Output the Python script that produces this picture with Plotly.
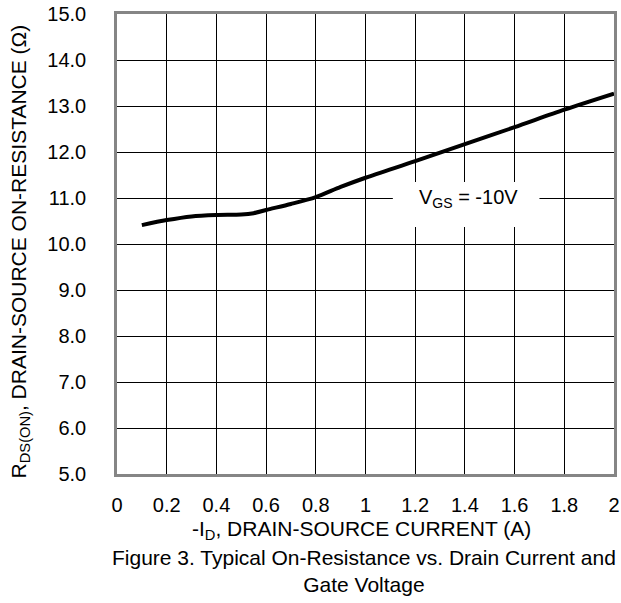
import plotly.graph_objects as go

# Drain current (A) and on-resistance (ohm) at VGS = -10 V
drain_current = [0.1, 0.2, 0.3, 0.4, 0.5, 0.55, 0.6, 0.7, 0.8, 0.9, 1.0, 1.2, 1.4, 1.6, 1.8, 2.0]
on_resistance = [10.41, 10.52, 10.60, 10.63, 10.64, 10.67, 10.74, 10.87, 11.02, 11.24, 11.44,
                 11.80, 12.17, 12.54, 12.92, 13.27]

x_ticks = [0, 0.2, 0.4, 0.6, 0.8, 1, 1.2, 1.4, 1.6, 1.8, 2]
x_tick_labels = ["0", "0.2", "0.4", "0.6", "0.8", "1", "1.2", "1.4", "1.6", "1.8", "2"]
y_ticks = [5, 6, 7, 8, 9, 10, 11, 12, 13, 14, 15]
y_tick_labels = ["5.0", "6.0", "7.0", "8.0", "9.0", "10.0", "11.0", "12.0", "13.0", "14.0", "15.0"]

FONT = "Liberation Sans, Arial, sans-serif"

fig = go.Figure()
fig.add_trace(go.Scatter(
    x=drain_current, y=on_resistance, mode="lines",
    line=dict(color="black", width=4, shape="spline", smoothing=0.8),
    hoverinfo="skip", showlegend=False,
))

axis_common = dict(
    showgrid=True, gridcolor="black", gridwidth=1,
    showline=True, linecolor="#858585", linewidth=2.5, mirror=True,
    ticks="", zeroline=False, fixedrange=True,
    tickfont=dict(family=FONT, size=20, color="black"),
)

fig.update_xaxes(range=[0, 2], tickvals=x_ticks, ticktext=x_tick_labels,
                 ticklabelstandoff=11, **axis_common)
fig.update_yaxes(range=[5, 15], tickvals=y_ticks, ticktext=y_tick_labels,
                 ticklabelstandoff=24, **axis_common)

# white patch behind the VGS label, covering the grid
fig.add_shape(type="rect", xref="x", yref="y", x0=1.11, x1=1.70, y0=10.37, y1=11.35,
              fillcolor="white", line=dict(width=0), layer="above")

fig.add_annotation(x=1.415, y=10.98, xref="x", yref="y", showarrow=False,
                   text="V<sub>GS</sub> = -10V",
                   font=dict(family=FONT, size=20, color="black"))

fig.add_annotation(x=-0.195, y=0.484, xref="paper", yref="paper", showarrow=False,
                   textangle=-90, xanchor="center", yanchor="middle",
                   text="R<sub>DS(ON)</sub>, DRAIN-SOURCE ON-RESISTANCE (Ω)",
                   font=dict(family=FONT, size=21, color="black"))

fig.add_annotation(x=0.492, y=-0.122, xref="paper", yref="paper", showarrow=False,
                   xanchor="center", yanchor="middle",
                   text="-I<sub>D</sub>, DRAIN-SOURCE CURRENT (A)",
                   font=dict(family=FONT, size=21, color="black"))

fig.add_annotation(x=0.497, y=-0.210, xref="paper", yref="paper", showarrow=False,
                   xanchor="center", yanchor="middle",
                   text="Figure 3. Typical On-Resistance vs. Drain Current and<br>Gate Voltage",
                   font=dict(family=FONT, size=21, color="black"))

fig.update_layout(
    width=621, height=603,
    margin=dict(l=117, r=7, t=14, b=129, autoexpand=False),
    paper_bgcolor="white", plot_bgcolor="white",
    font=dict(family=FONT, size=20, color="black"),
)

fig.write_html("out.html", config={"displayModeBar": False})
